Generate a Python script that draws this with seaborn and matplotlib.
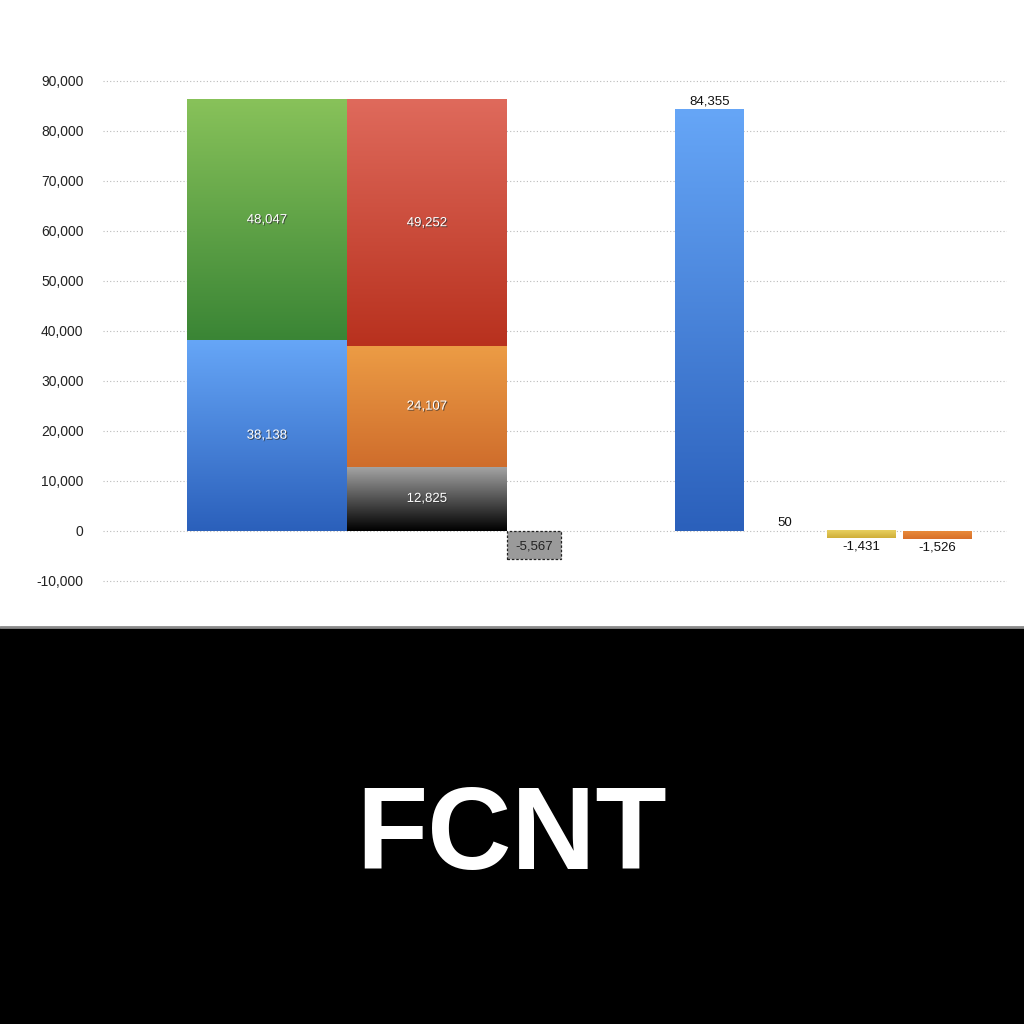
import numpy as np
import matplotlib
matplotlib.use("Agg")
import matplotlib.pyplot as plt
import matplotlib.patheffects as pe
from matplotlib.colors import to_rgb
from matplotlib.patches import Rectangle
import seaborn as sns

# balance sheet (left) and income statement (right), millions of yen
assets = [38138, 48047]                 # bottom -> top
liabilities = [12825, 24107, 49252]     # bottom -> top
adjustment = -5567
pl_values = [84355, 50, -1431, -1526]

asset_colors = [("#66a6f7", "#2b60bb"), ("#88c25a", "#3a8535")]
liab_colors = [("#a6a6a6", "#000000"), ("#ec9c45", "#cf6d2c"), ("#df6a5c", "#b8311e")]
pl_colors = [("#66a6f7", "#2b60bb"), ("#66a6f7", "#2b60bb"),
             ("#e8d060", "#cfae38"), ("#e88a3a", "#d86f2a")]

yticks = list(range(-10000, 100000, 10000))

sns.set_theme(style="white")
plt.rcParams["font.family"] = ["Liberation Sans", "DejaVu Sans"]

fig = plt.figure(figsize=(10.24, 10.24), dpi=100)
fig.patch.set_facecolor("white")
ax = fig.add_axes([103 / 1024, 1 - 596 / 1024, 904 / 1024, 535 / 1024])
ax.set_xlim(0, 904)
ax.set_ylim(-13000, 94000)


def grad_bar(x, w, bottom, height, colors):
    # tiny bars (under a pixel) are drawn flat so they stay near invisible
    if abs(height) < 300:
        ax.bar(x, height, width=w, bottom=bottom, color=colors[1], linewidth=0, zorder=2)
        return
    top_c, bot_c = np.array(to_rgb(colors[0])), np.array(to_rgb(colors[1]))
    t = np.linspace(0, 1, 256)[:, None]
    img = (top_c * (1 - t) + bot_c * t)[:, None, :]
    y0, y1 = bottom, bottom + height
    ax.imshow(img, extent=[x - w / 2, x + w / 2, min(y0, y1), max(y0, y1)],
              aspect="auto", origin="upper", zorder=2, interpolation="bilinear")


inner = dict(ha="center", va="center", color="white", fontsize=9.5, zorder=5,
             path_effects=[pe.withSimplePatchShadow(offset=(0.7, -0.7),
                                                    shadow_rgbFace="#333333", alpha=0.8)])

# left: assets stack
x_a, w_big = 164, 160
b = 0
for v, c in zip(assets, asset_colors):
    grad_bar(x_a, w_big, b, v, c)
    ax.text(x_a, b + v / 2, f"{v:,}", **inner)
    b += v

# middle: liabilities / equity stack
x_l = 324
b = 0
for v, c in zip(liabilities, liab_colors):
    grad_bar(x_l, w_big, b, v, c)
    ax.text(x_l, b + v / 2, f"{v:,}", **inner)
    b += v

# adjustment box
x_adj, w_adj = 431, 54
ax.add_patch(Rectangle((x_adj - w_adj / 2, adjustment), w_adj, -adjustment,
                       facecolor="#9a9a9a", edgecolor="#222222", linestyle=(0, (2, 1.5)),
                       linewidth=0.9, zorder=3))
ax.text(x_adj, adjustment / 2 - 300, f"{adjustment:,}", ha="center", va="center",
        fontsize=9.5, color="#222222", zorder=5)

# right: income statement bars
pl_x = [606.5, 682, 758.5, 834.5]
w_pl = 69
for x, v, c in zip(pl_x, pl_values, pl_colors):
    grad_bar(x, w_pl, 0, v, c)
    if v >= 0:
        ax.text(x, v + 300, f"{v:,}", ha="center", va="bottom", fontsize=9.5,
                color="#111111", zorder=5)
    else:
        ax.text(x, v - 500, f"{v:,}", ha="center", va="top", fontsize=9.5,
                color="#111111", zorder=5)

ax.set_yticks(yticks)
ax.set_yticklabels([f"{t:,}" for t in yticks], fontsize=10, color="#222222")
ax.tick_params(axis="y", length=0, pad=14)
ax.set_xticks([])
ax.grid(axis="y", color="#bbbbbb", linestyle=(0, (1, 2)), linewidth=0.8, zorder=0)
ax.set_axisbelow(True)
sns.despine(ax=ax, left=True, bottom=True)

# black banner with company name
fig.patches.append(Rectangle((0, 0), 1, 397 / 1024, transform=fig.transFigure,
                             facecolor="black", edgecolor="none", zorder=0))
fig.lines.append(plt.Line2D([0, 1], [397 / 1024, 397 / 1024], transform=fig.transFigure,
                            color="#8a8a8a", linewidth=2))
fig.text(0.5, 1 - 869 / 1024, "FCNT", ha="center", va="baseline", color="white",
         fontsize=84, fontweight="bold")

fig.savefig("out.png", dpi=100, facecolor="white")
